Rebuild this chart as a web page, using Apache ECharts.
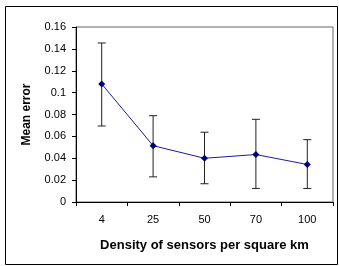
<!DOCTYPE html>
<html>
<head>
<meta charset="utf-8">
<script src="https://cdn.jsdelivr.net/npm/echarts@6/dist/echarts.min.js"></script>
<style>
  html, body { margin: 0; padding: 0; background: #fff; }
  #chart { width: 339px; height: 266px; }
</style>
</head>
<body>
<div id="chart"></div>
<script>
let chart = echarts.init(document.getElementById("chart"));

// density of sensors per square km
let densities = ['4', '25', '50', '70', '100'];
// mean error and the ends of the error bars
let meanError = [0.108, 0.0515, 0.040, 0.0434, 0.0343];
let errLow = [0.0695, 0.023, 0.0167, 0.0124, 0.0124];
let errHigh = [0.1454, 0.0789, 0.0638, 0.0756, 0.057];

let barData = densities.map(function (d, i) {
    return [i, errLow[i], errHigh[i]];
});

let option = {
    animation: false,
    graphic: [
        {
            type: 'rect',
            shape: {x: 5.5, y: 6.5, width: 332, height: 258},
            style: {fill: 'none', stroke: '#000', lineWidth: 1}
        }
    ],
    grid: {
        left: 76,
        top: 27,
        right: 6,
        bottom: 64,
        show: true,
        borderColor: '#666',
        borderWidth: 1
    },
    xAxis: {
        type: 'category',
        data: densities,
        boundaryGap: true,
        name: 'Density of sensors per square km',
        nameLocation: 'middle',
        nameGap: 37,
        nameTextStyle: {
            color: '#000',
            fontFamily: 'Liberation Sans',
            fontWeight: 'bold',
            fontSize: 13
        },
        axisLine: {lineStyle: {color: '#000', width: 1}},
        axisTick: {show: true, length: 4, inside: false, lineStyle: {color: '#000'}},
        axisLabel: {
            color: '#000',
            fontFamily: 'Liberation Sans',
            fontSize: 11,
            margin: 12
        },
        splitLine: {show: false}
    },
    yAxis: {
        type: 'value',
        min: 0,
        max: 0.16,
        interval: 0.02,
        name: 'Mean error',
        nameLocation: 'middle',
        nameGap: 43,
        nameRotate: 90,
        nameTextStyle: {
            color: '#000',
            fontFamily: 'Liberation Sans',
            fontWeight: 'bold',
            fontSize: 12
        },
        axisLine: {show: true, lineStyle: {color: '#000', width: 1}},
        axisTick: {show: true, length: 4, inside: false, lineStyle: {color: '#000'}},
        axisLabel: {
            color: '#000',
            fontFamily: 'Liberation Sans',
            fontSize: 11,
            margin: 10,
            formatter: function (v) {
                return String(parseFloat(v.toFixed(2)));
            }
        },
        splitLine: {show: false}
    },
    series: [
        {
            name: 'error bars',
            type: 'custom',
            data: barData,
            z: 1,
            renderItem: function (params, api) {
                let x = api.value(0);
                let lo = api.coord([x, api.value(1)]);
                let hi = api.coord([x, api.value(2)]);
                let w = 4;
                let style = {stroke: '#222', lineWidth: 1};
                return {
                    type: 'group',
                    children: [
                        {type: 'line', shape: {x1: lo[0], y1: lo[1], x2: hi[0], y2: hi[1]}, style: style},
                        {type: 'line', shape: {x1: hi[0] - w, y1: hi[1], x2: hi[0] + w, y2: hi[1]}, style: style},
                        {type: 'line', shape: {x1: lo[0] - w, y1: lo[1], x2: lo[0] + w, y2: lo[1]}, style: style}
                    ]
                };
            }
        },
        {
            name: 'Mean error',
            type: 'line',
            data: meanError,
            z: 2,
            symbol: 'diamond',
            symbolSize: 7,
            color: '#000080',
            itemStyle: {color: '#000080'},
            lineStyle: {color: '#1a1aa0', width: 1}
        }
    ]
};
chart.setOption(option);
window.addEventListener('resize', function () {chart.resize();});
</script>
</body>
</html>
